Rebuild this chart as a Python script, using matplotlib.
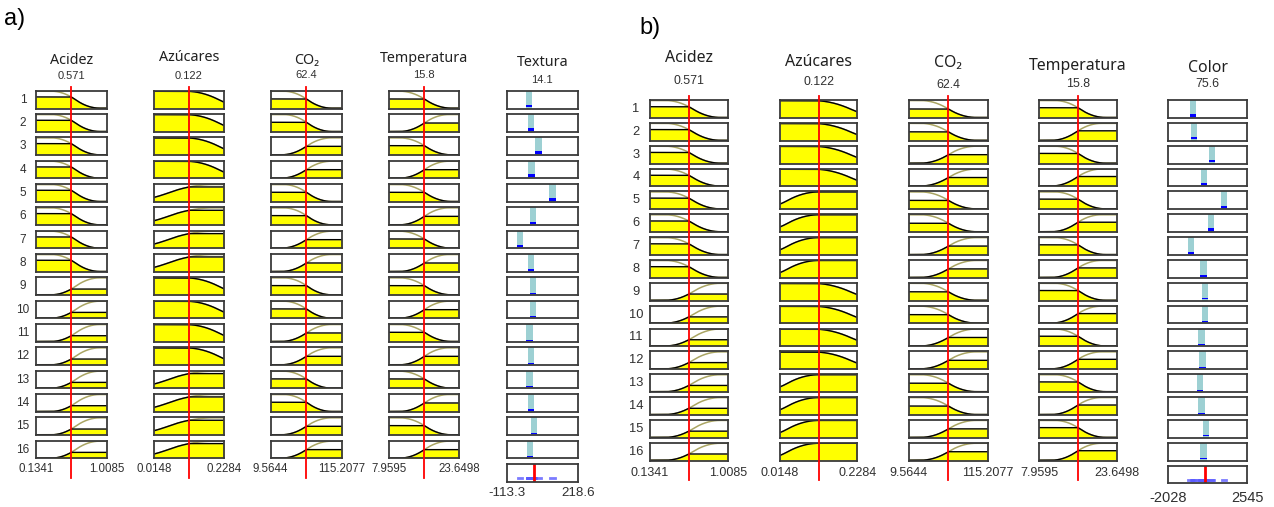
import numpy as np
import matplotlib.pyplot as plt

W, H = 1274, 507

# ---- data -------------------------------------------------------------
input_names = ['Acidez', 'Azúcares', 'CO₂', 'Temperatura']
input_values = [0.571, 0.122, 62.4, 15.8]
input_lo = [0.1341, 0.0148, 9.5644, 7.9595]
input_hi = [1.0085, 0.2284, 115.2077, 23.6498]
input_lo_txt = ['0.1341', '0.0148', '9.5644', '7.9595']
input_hi_txt = ['1.0085', '0.2284', '115.2077', '23.6498']

# which membership function each rule uses (0 = low, 1 = high)
rule_acidez = [0, 0, 0, 0, 0, 0, 0, 0, 1, 1, 1, 1, 1, 1, 1, 1]
rule_azucares = [0, 0, 0, 0, 1, 1, 1, 1, 0, 0, 0, 0, 1, 1, 1, 1]
rule_co2 = [0, 0, 1, 1, 0, 0, 1, 1, 0, 0, 1, 1, 0, 0, 1, 1]
rule_temp = [0, 1, 0, 1, 0, 1, 0, 1, 0, 1, 0, 1, 0, 1, 0, 1]

# membership function break points (fraction of each input range)
mf_low_a = [(0.22, 0.90), (0.45, 1.40), (0.18, 0.85), (0.15, 0.88)]
mf_high_a = [(0.22, 0.90), (-0.45, 0.85), (0.15, 0.85), (0.15, 0.85)]
mf_low_b = [(0.20, 0.90), (0.42, 1.40), (0.15, 0.85), (0.20, 0.85)]
mf_high_b = [(0.20, 0.90), (-0.30, 0.50), (0.15, 0.85), (0.16, 0.80)]

# outputs
out_name_a, out_value_a = 'Textura', 14.1
out_lo_a, out_hi_a = -113.3, 218.6
rule_out_a = [-10.4, -0.5, 34.7, 2.9, 100.1, 9.5, -50.2, -0.5,
              8.2, 8.2, -7.1, 1.9, -7.1, 1.9, 12.8, -2.8]
fire_a = [0.15, 0.17, 0.17, 0.16, 0.13, 0.11, 0.11, 0.11,
          0.06, 0.06, 0.05, 0.06, 0.05, 0.06, 0.05, 0.05]

out_name_b, out_value_b = 'Color', 75.6
out_lo_b, out_hi_b = -2028, 2545
rule_out_b = [-592, -519, 510, 43, 1210, 451, -729, 25,
              85, 103, -107, -34, -199, -107, 162, 25]
fire_b = [0.13, 0.13, 0.13, 0.13, 0.13, 0.13, 0.12, 0.10,
          0.06, 0.06, 0.06, 0.06, 0.06, 0.06, 0.06, 0.06]

rules = [rule_acidez, rule_azucares, rule_co2, rule_temp]


def smf(x, a, b):
    t = (x - a) / (b - a)
    y = np.where(t <= 0.5, 2 * t ** 2, 1 - 2 * (1 - t) ** 2)
    y = np.where(t <= 0, 0.0, y)
    y = np.where(t >= 1, 1.0, y)
    return y


def zmf(x, a, b):
    return 1 - smf(x, a, b)


fig = plt.figure(figsize=(W / 100, H / 100), dpi=100)
ov = fig.add_axes([0, 0, 1, 1], zorder=5)
ov.set_xlim(0, W)
ov.set_ylim(H, 0)
ov.axis('off')
ov.patch.set_alpha(0)


def px_axes(x0, y0, x1, y1):
    ax = fig.add_axes([x0 / W, 1 - y1 / H, (x1 - x0) / W, (y1 - y0) / H])
    ax.set_xticks([])
    ax.set_yticks([])
    for s in ax.spines.values():
        s.set_color('#3a3a3a')
        s.set_linewidth(1.3)
    return ax


def draw_panel(p):
    cols, row0, pitch, rh = p['cols'], p['row0'], p['pitch'], p['rh']
    fs = p['fs']
    for k in range(4):
        x0, x1 = cols[k]
        lo, hi = input_lo[k], input_hi[k]
        xs = np.linspace(lo, hi, 300)
        xv = input_values[k]
        for r in range(16):
            y0 = row0 + r * pitch
            ax = px_axes(x0, y0, x1, y0 + rh)
            ax.set_xlim(lo, hi)
            ax.set_ylim(-0.02, 1.03)
            if rules[k][r] == 0:
                a, b = p['low'][k]
                f = zmf
            else:
                a, b = p['high'][k]
                f = smf
            a, b = lo + a * (hi - lo), lo + b * (hi - lo)
            mu = f(xs, a, b)
            level = f(np.array(xv), a, b)
            ax.plot(xs, mu, color='#aaa563', lw=1.1)
            fill = np.minimum(mu, level)
            ax.fill_between(xs, 0, fill, color='#ffff00', lw=0)
            ax.plot(xs, fill, color='black', lw=1.0)
            if k == 0:
                ov.text(p['num_x'], y0 + rh / 2, str(r + 1), ha='center', va='center',
                        fontsize=fs['num'], family='Liberation Sans', color='#303030')
        xc = (x0 + x1) / 2
        xr = x0 + (xv - lo) / (hi - lo) * (x1 - x0)
        ov.plot([xr, xr], [p['red_top'], p['red_bot']], color='#ff0000', lw=1.3)
        ov.text(xc, p['title_y'][k], input_names[k], ha='center', va='center',
                fontsize=fs['title'], family='Noto Sans', color='#202020')
        ov.text(xc, p['val_y'][k], f'{xv:g}', ha='center', va='center',
                fontsize=fs['val'], family='Liberation Sans', color='#303030')
        ov.text(x0, p['lab_y'], input_lo_txt[k], ha='center', va='center',
                fontsize=fs['lab'], family='Liberation Sans', color='#303030')
        ov.text(x1, p['lab_y'], input_hi_txt[k], ha='center', va='center',
                fontsize=fs['lab'], family='Liberation Sans', color='#303030')

    # output column
    x0, x1 = cols[4]
    lo, hi = p['out_lo'], p['out_hi']
    bw = 6.3 / (x1 - x0) * (hi - lo)
    for r in range(16):
        y0 = row0 + r * pitch
        ax = px_axes(x0, y0, x1, y0 + rh)
        ax.set_xlim(lo, hi)
        ax.set_ylim(0, 1)
        v = p['rule_out'][r]
        ax.bar(v, 1, width=bw, color='#9dd0d3', lw=0)
        # blue part sits just above the bottom border
        ax.bar(v, p['fire'][r], bottom=0.07, width=bw, color='#0000ff', lw=0)
    y0 = row0 + 16 * pitch
    ax = px_axes(x0, y0, x1, y0 + rh)
    ax.set_xlim(lo, hi)
    ax.set_ylim(0, 1)
    for v in p['rule_out']:
        ax.plot([v - bw * 0.35, v + bw * 0.35], [0.2, 0.2], color='#5a5aff', lw=2, alpha=0.8)
    ax.axvline(p['out_value'], color='#ff0000', lw=2)
    xc = (x0 + x1) / 2
    ov.text(xc, p['title_y'][4], p['out_name'], ha='center', va='center',
            fontsize=fs['title'], family='Noto Sans', color='#202020')
    ov.text(xc, p['val_y'][4], f"{p['out_value']:g}", ha='center', va='center',
            fontsize=fs['val'], family='Liberation Sans', color='#303030')
    ov.text(x0, p['olab_y'], f'{lo:g}', ha='center', va='center',
            fontsize=fs['olab'], family='Liberation Sans', color='#303030')
    ov.text(x1, p['olab_y'], f'{hi:g}', ha='center', va='center',
            fontsize=fs['olab'], family='Liberation Sans', color='#303030')
    ov.text(p['tag'][0], p['tag'][1], p['tag'][2], ha='left', va='center',
            fontsize=17, family='Liberation Sans', color='black')


panel_a = dict(
    cols=[(35.7, 106.7), (154, 224), (270.7, 342), (389.3, 459.3), (506.7, 577.7)],
    row0=90.7, pitch=23.33, rh=17.8, num_x=23,
    red_top=86.7, red_bot=478,
    title_y=[60.7, 57.5, 60, 59, 62], val_y=[75.7, 75.7, 74.5, 75, 80],
    lab_y=469, olab_y=493,
    low=mf_low_a, high=mf_high_a,
    out_lo=out_lo_a, out_hi=out_hi_a, out_value=out_value_a, out_name=out_name_a,
    rule_out=rule_out_a, fire=fire_a, tag=(4, 19, 'a)'),
    fs=dict(num=8.5, title=10.3, val=8.0, lab=8.3, olab=9.6),
)
panel_b = dict(
    cols=[(650, 727.7), (780, 857.3), (909, 987.7), (1039.3, 1116.7), (1168.3, 1247)],
    row0=100, pitch=22.85, rh=17.8, num_x=636,
    red_top=96, red_bot=480,
    title_y=[58.3, 61.7, 63, 65.7, 67.7], val_y=[80.7, 82, 85, 84.3, 84.3],
    lab_y=473.3, olab_y=498.3,
    low=mf_low_b, high=mf_high_b,
    out_lo=out_lo_b, out_hi=out_hi_b, out_value=out_value_b, out_name=out_name_b,
    rule_out=rule_out_b, fire=fire_b, tag=(639, 28, 'b)'),
    fs=dict(num=9.3, title=11.4, val=8.9, lab=9.0, olab=10.5),
)

draw_panel(panel_a)
draw_panel(panel_b)

fig.savefig('out.png', dpi=100)
